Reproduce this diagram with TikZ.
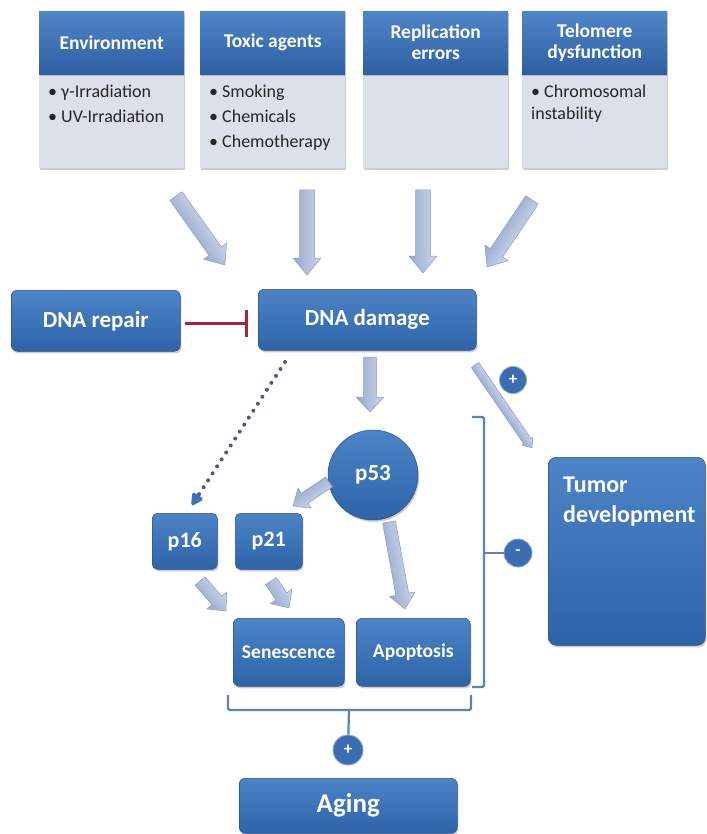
\documentclass[tikz,border=0pt]{standalone}
\usepackage{fontspec}
\setmainfont{Carlito}
\usetikzlibrary{arrows.meta,calc,shadows}
\definecolor{hdrtop}{HTML}{4F86C8}
\definecolor{hdrbot}{HTML}{2D5FA3}
\definecolor{bodygrey}{HTML}{DCE0E9}
\definecolor{boxtop}{HTML}{4C84C7}
\definecolor{boxbot}{HTML}{2E63A8}
\definecolor{arrlight}{HTML}{CDD7EA}
\definecolor{arrdark}{HTML}{97A9CD}
\definecolor{arredge}{HTML}{8A9CC3}
\definecolor{inhred}{HTML}{A8233A}
\definecolor{brk}{HTML}{5A83BE}
\definecolor{dotgrey}{HTML}{4A5A84}
\definecolor{tipblue}{HTML}{3D72B8}
\definecolor{circfill}{HTML}{3C6DB0}
\definecolor{bodytext}{HTML}{262626}

\tikzset{
  shadowed/.style={drop shadow={shadow xshift=1.2pt, shadow yshift=-2pt, opacity=0.28, fill=black!70}},
  hdr/.style={rectangle, top color=hdrtop, bottom color=hdrbot, text=white,
    font=\bfseries\fontsize{19.5}{21}\selectfont, align=center,
    minimum width=145pt, minimum height=63pt, inner sep=0pt, anchor=north west, shadowed},
  bodybox/.style={rectangle, fill=bodygrey, minimum width=145pt, minimum height=94pt,
    inner sep=0pt, anchor=north west, shadowed},
  bodytxt/.style={anchor=base west, inner sep=0pt, text=bodytext, font=\fontsize{18}{22}\selectfont},
  mainbox/.style={rectangle, rounded corners=6pt, top color=boxtop, bottom color=boxbot,
    draw=boxbot!85!black, line width=0.5pt, text=white, inner sep=0pt, anchor=north west, shadowed},
  whitetxt/.style={anchor=base west, inner sep=0pt, text=white, font=\bfseries\fontsize{24}{30}\selectfont},
  sign/.style={circle, fill=circfill, draw=circfill!60!white, line width=0.9pt, text=white,
    font=\bfseries\fontsize{17}{17}\selectfont, inner sep=0pt},
  brkline/.style={draw=brk, line width=2.2pt, rounded corners=1.5pt},
  barrowstyle/.style={top color=arrlight, bottom color=arrdark, draw=arredge, line width=0.5pt, line join=round},
}

% block arrow: from, to, half shaft width, half head width, head length
\newcommand\blockarrow[5]{%
  \path let \p1=(#1), \p2=(#2) in
    \pgfextra{\pgfmathparse{atan2(\y2-\y1,\x2-\x1)}\xdef\baA{\pgfmathresult}%
              \pgfmathparse{veclen(\x2-\x1,\y2-\y1)}\xdef\baL{\pgfmathresult}};
  \begin{scope}[transform canvas={shift={(#1)}, rotate=\baA}]
    \path[barrowstyle] (0pt,-#3pt) -- (\baL pt-#5pt,-#3pt) -- (\baL pt-#5pt,-#4pt) -- (\baL pt,0pt)
      -- (\baL pt-#5pt,#4pt) -- (\baL pt-#5pt,#3pt) -- (0pt,#3pt) -- cycle;
  \end{scope}}

\begin{document}
\begin{tikzpicture}[x=1pt,y=-1pt]
\useasboundingbox[fill=white] (0,0) rectangle (706,834);

% ---- top category boxes
\node[bodybox] (envb) at (39,74) {};
\node[bodybox] (toxb) at (200,74) {};
\node[bodybox] (repb) at (363,74) {};
\node[bodybox] (telb) at (522,74) {};
\node[hdr] (envh) at (39,11) {Environment};
\node[hdr] (toxh) at (200,11) {Toxic agents};
\node[hdr] (reph) at (363,11) {Replication\\errors};
\node[hdr] (telh) at (522,11) {Telomere\\dysfunction};

\node[bodytxt] (e1) at (48,98) {• γ-Irradiation};
\node[bodytxt] (e2) at (48,123) {• UV-Irradiation};
\node[bodytxt] (t1) at (209,98) {• Smoking};
\node[bodytxt] (t2) at (209,123) {• Chemicals};
\node[bodytxt] (t3) at (209,148) {• Chemotherapy};
\node[bodytxt] (l1) at (531,98) {• Chromosomal};
\node[bodytxt] (l2) at (531,120) {instability};

% ---- main boxes
\node[mainbox, minimum width=169pt, minimum height=61pt, font=\bfseries\fontsize{23}{26}\selectfont] (repair) at (11,290) {DNA repair};
\node[mainbox, minimum width=218pt, minimum height=61pt, font=\bfseries\fontsize{23}{26}\selectfont] (damage) at (258,289) {DNA damage};
\node[mainbox, circle, minimum size=90pt, anchor=center, font=\bfseries\fontsize{23}{26}\selectfont] (p53) at (373,475) {p53};
\node[mainbox, rounded corners=5pt, minimum width=65pt, minimum height=56pt, font=\bfseries\fontsize{22}{26}\selectfont] (p16) at (152,513) {p16};
\node[mainbox, rounded corners=5pt, minimum width=67pt, minimum height=56pt, font=\bfseries\fontsize{22}{26}\selectfont] (p21) at (235,513) {p21};
\node[mainbox, minimum width=111pt, minimum height=68pt, font=\bfseries\fontsize{19.5}{22}\selectfont] (sen) at (233,618) {Senescence};
\node[mainbox, minimum width=114pt, minimum height=68pt, font=\bfseries\fontsize{19.5}{22}\selectfont] (apo) at (356,618) {Apoptosis};
\node[mainbox, rounded corners=8pt, minimum width=157pt, minimum height=188pt] (tumor) at (548,457) {};
\node[whitetxt] (tum1) at (563,492) {Tumor};
\node[whitetxt] (tum2) at (563,522) {development};
\node[mainbox, minimum width=218pt, minimum height=55pt, font=\bfseries\fontsize{27}{30}\selectfont] (aging) at (239,778) {Aging};

% ---- block arrows
\coordinate (a1s) at (176,196); \coordinate (a1e) at (225,265);
\coordinate (a2s) at (307,190); \coordinate (a2e) at (307,275);
\coordinate (a3s) at (423,190); \coordinate (a3e) at (423,273);
\coordinate (a4s) at (532,200); \coordinate (a4e) at (487,267);
\coordinate (a5s) at (370,357); \coordinate (a5e) at (370,412);
\coordinate (a6s) at (329,482); \coordinate (a6e) at (293,506);
\coordinate (a7s) at (200,581); \coordinate (a7e) at (226,611);
\coordinate (a8s) at (271,581); \coordinate (a8e) at (289,608);
\coordinate (a9s) at (389,522); \coordinate (a9e) at (405,609);
\coordinate (a10s) at (475,365); \coordinate (a10e) at (532,448);
\blockarrow{a1s}{a1e}{7.5}{14}{17}
\blockarrow{a2s}{a2e}{7.5}{14}{17}
\blockarrow{a3s}{a3e}{7.5}{14}{17}
\blockarrow{a4s}{a4e}{7.5}{14}{17}
\blockarrow{a5s}{a5e}{6.5}{14}{15}
\blockarrow{a6s}{a6e}{6}{12}{14}
\blockarrow{a7s}{a7e}{6.5}{13}{14}
\blockarrow{a8s}{a8e}{6.5}{13}{14}
\blockarrow{a9s}{a9e}{6.5}{13}{15}
\blockarrow{a10s}{a10e}{4.5}{6.5}{8}

% ---- dotted arrow DNA damage -> p16
\coordinate (d1) at (285,362); \coordinate (d2) at (192,505);
\draw[dotgrey, line width=4pt, dash pattern=on 0pt off 8.3pt, line cap=round,
  -{Triangle[width=13pt,length=14pt,round=false,color=tipblue]}] (d1) -- (d2);

% ---- inhibition
\coordinate (r1) at (185,323); \coordinate (r2) at (248,323);
\draw[inhred, line width=3pt, -{Bar[width=27pt,line width=3pt]}] (r1) -- (r2);

% ---- signs and brackets
\node[sign, minimum size=27pt] (plus1) at (513,380) {+};
\node[sign, minimum size=28pt] (minus) at (518,553) {-};
\node[sign, minimum size=30pt] (plus2) at (348,750) {+};

\coordinate (rb1) at (472,417); \coordinate (rb2) at (484,417);
\coordinate (rb3) at (484,687); \coordinate (rb4) at (472,687);
\coordinate (rbm) at (484,553);
\draw[brkline] (rb1) -- (rb2) -- (rb3) -- (rb4);
\draw[brkline] (rbm) -- (minus);

\coordinate (bb1) at (228,695); \coordinate (bb2) at (228,710);
\coordinate (bb3) at (471,710); \coordinate (bb4) at (471,695);
\coordinate (bbm) at (349,710);
\draw[brkline] (bb1) -- (bb2) -- (bb3) -- (bb4);
\draw[brkline] (bbm) -- (plus2);
\end{tikzpicture}
\end{document}
